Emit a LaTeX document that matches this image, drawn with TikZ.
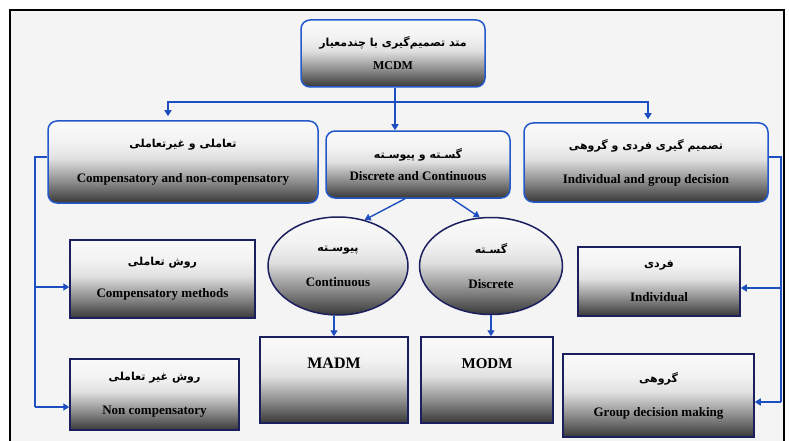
\documentclass[tikz,border=0pt]{standalone}
\usepackage{fontspec}
\setmainfont{Liberation Serif}
\newfontfamily\farsi[Script=Arabic]{DejaVu Sans}
\TeXXeTstate=1
\usetikzlibrary{arrows.meta,shapes.geometric,calc}
\definecolor{lineblue}{HTML}{1E4FC0}
\definecolor{boxblue}{HTML}{2358CC}
\definecolor{navy}{HTML}{1C1F5E}
\definecolor{bgray}{HTML}{F4F4F4}
\pgfdeclareverticalshading{boxsh}{100bp}{color(0bp)=(black!78); color(25bp)=(black!78); color(38bp)=(black!45); color(52bp)=(black!12); color(62bp)=(black!5); color(75bp)=(black!2); color(100bp)=(black!2)}
\newcommand\Pers[1]{{\farsi\bfseries\fontsize{11}{13}\selectfont\beginR #1\endR}}
\begin{document}
\begin{tikzpicture}[x=1pt,y=-1pt,
  conn/.style={draw=lineblue, line width=1.4pt},
  arr/.style={conn, -{Triangle[width=7pt,length=6pt]}},
  rbox/.style={draw=boxblue, line width=1.5pt, rounded corners=9pt, shading=boxsh, align=center, inner sep=0pt, font=\bfseries\fontsize{13}{15}\selectfont},
  sbox/.style={draw=navy, line width=1.5pt, shading=boxsh, align=center, inner sep=0pt, font=\bfseries\fontsize{13}{15}\selectfont},
  ell/.style={ellipse, draw=navy, line width=1.5pt, shading=boxsh, align=center, inner sep=0pt, font=\bfseries\fontsize{13}{15}\selectfont}]
\useasboundingbox (0,0) rectangle (789,441);
\fill[white] (0,0) rectangle (789,441);
\draw[fill=bgray, line width=2pt] (10,10) rectangle (784,450);

% top
\node[rbox, minimum width=184pt, minimum height=67pt] (mcdm) at (393,53.5)
  {\Pers{متد تصمیم‌گیری با چندمعیار}\\[8pt]{\fontsize{12}{14}\selectfont MCDM}};
% second row
\node[rbox, minimum width=270pt, minimum height=82pt] (cmp) at (183,162)
  {\Pers{تعاملی و غیرتعاملی}\\[20pt]Compensatory and non-compensatory};
\node[rbox, minimum width=184pt, minimum height=67pt] (dc) at (418,164.5)
  {\Pers{گسـته و پیوسـته}\\[7pt]Discrete and Continuous};
\node[rbox, minimum width=244pt, minimum height=79pt] (ind) at (646,162.5)
  {\Pers{تصمیم گیری فردی و گروهی}\\[19pt]Individual and group decision};
% ellipses
\node[ell, minimum width=140pt, minimum height=98pt] (cont) at (338,266)
  {\Pers{پیوسـته}\\[20pt]Continuous};
\node[ell, minimum width=143pt, minimum height=97pt] (disc) at (491,266)
  {\Pers{گسـته}\\[20pt]Discrete};
% square boxes
\node[sbox, minimum width=148pt, minimum height=86pt] (madm) at (334,380)
  {{\fontsize{16}{18}\selectfont MADM}\\[18pt]\mbox{}};
\node[sbox, minimum width=132pt, minimum height=86pt] (modm) at (487,380)
  {{\fontsize{15}{17}\selectfont MODM}\\[18pt]\mbox{}};
\node[sbox, minimum width=185pt, minimum height=78pt] (cm) at (162.5,279)
  {\Pers{روش تعاملی}\\[17pt]Compensatory methods};
\node[sbox, minimum width=169pt, minimum height=71pt] (ncm) at (154.5,394.5)
  {\Pers{روش غیر تعاملی}\\[19pt]Non compensatory};
\node[sbox, minimum width=162pt, minimum height=69pt] (indv) at (659,281.5)
  {\Pers{فردی}\\[19pt]Individual};
\node[sbox, minimum width=191pt, minimum height=83pt] (grp) at (658.5,395.5)
  {\Pers{گروهی}\\[19pt]Group decision making};

% connectors from top
\coordinate (split) at (395,102);
\draw[conn] (mcdm.south -| split) -- (split);
\draw[arr] (split) -- (split |- dc.north);
\draw[arr] (split) -| ([xshift=-15pt,yshift=4pt]cmp.north);
\draw[arr] (split) -| ([xshift=2pt,yshift=3pt]ind.north);
% to ellipses
\draw[arr] ([xshift=-13pt]dc.south) -- (cont.60);
\draw[arr] ([xshift=34pt]dc.south) -- (disc.103);
\draw[arr] (cont.south -| madm.north) -- (madm.north);
\draw[arr] (disc.south) -- (disc.south |- modm.north);
% left bus
\coordinate (lt) at (35,157);
\coordinate (lm) at (35,287);
\coordinate (lb) at (35,407);
\draw[conn] (cmp.west |- lt) -- (lt) -- (lb);
\draw[arr] (lm) -- (cm.west |- lm);
\draw[arr] (lb) -- (ncm.west |- lb);
% right bus
\coordinate (rt) at (781,157);
\coordinate (rm) at (781,288);
\coordinate (rb) at (781,402);
\draw[conn] (ind.east |- rt) -- (rt) -- (rb);
\draw[arr] (rm) -- (indv.east |- rm);
\draw[arr] (rb) -- (grp.east |- rb);
\end{tikzpicture}
\end{document}
